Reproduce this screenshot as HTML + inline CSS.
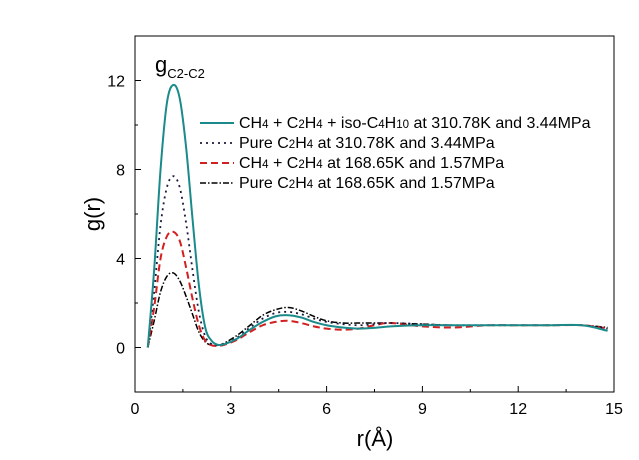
<!DOCTYPE html>
<html><head><meta charset="utf-8"><style>
body{margin:0;background:#fff;}
svg{display:block;font-family:"Liberation Sans",Arial,sans-serif;}
</style></head><body>
<svg id="c" width="639" height="460"></svg>
<script>
const xs=[0.4,0.6,0.8,1.0,1.2,1.4,1.6,1.8,2.0,2.2,2.4,2.6,2.8,3.2,3.6,4.0,4.4,4.8,5.2,5.6,6.0,6.5,7.0,7.5,8.0,9,10,11,12,13,14,14.8];
const sTeal=[0,3.5,8.0,11.0,11.8,11.2,9.0,5.8,2.8,0.9,0.3,0.12,0.15,0.4,0.8,1.15,1.4,1.45,1.35,1.15,1.0,0.9,0.85,0.88,0.95,1.0,1.0,1.0,1.0,1.0,1.0,0.75];
const sDot=[0,2.5,5.5,7.2,7.7,7.2,5.6,3.5,1.6,0.5,0.15,0.1,0.15,0.45,0.9,1.3,1.55,1.6,1.5,1.3,1.15,1.05,1.0,1.05,1.1,1.05,1.0,1.0,1.0,1.0,1.0,0.85];
const sRed=[0,1.8,4.0,5.0,5.2,4.8,3.6,2.2,1.0,0.3,0.1,0.08,0.12,0.35,0.7,1.0,1.15,1.2,1.1,0.95,0.85,0.8,0.85,1.0,1.1,0.95,0.9,1.0,1.0,1.0,1.0,0.85];
const sBlk=[0,1.2,2.5,3.2,3.35,3.0,2.3,1.5,0.7,0.25,0.1,0.1,0.2,0.55,1.0,1.45,1.7,1.8,1.65,1.4,1.2,1.1,1.1,1.1,1.1,1.05,1.0,1.0,1.0,1.0,1.0,0.9];
const xTicks=[0,3,6,9,12,15];
const yTicks=[0,4,8,12];
const NS="http://www.w3.org/2000/svg",svg=document.getElementById('c');
const L=135,R=614,T=36,B=392;
const X=v=>L+(v/15)*(R-L), Y=v=>B-((v+2)/16)*(B-T);
function el(t,a,p){const e=document.createElementNS(NS,t);for(const k in a)e.setAttribute(k,a[k]);(p||svg).appendChild(e);return e;}
const frame=el('rect',{x:L,y:T,width:R-L,height:B-T,fill:'none',stroke:'#000','stroke-width':1});


xTicks.forEach((t,i)=>{
  const ln=el('line',{x1:X(t),x2:X(t),y1:B,y2:B-6,stroke:'#000'});
  
  if(i<xTicks.length-1){const m=el('line',{x1:X(t+1.5),x2:X(t+1.5),y1:B,y2:B-3,stroke:'#000'});}
  const tx=el('text',{x:X(t),y:B+22,'text-anchor':'middle','font-size':16});tx.textContent=t;
  
});
yTicks.forEach(t=>{
  const ln=el('line',{x1:L,x2:L+6,y1:Y(t),y2:Y(t),stroke:'#000'});
  
  const m=el('line',{x1:L,x2:L+3,y1:Y(t+2),y2:Y(t+2),stroke:'#000'});
  
  const tx=el('text',{x:L-10,y:Y(t)+6,'text-anchor':'end','font-size':16});tx.textContent=t;
  
});
const xt=el('text',{x:375,y:446,'text-anchor':'middle','font-size':22});xt.textContent='r(Å)';

const yt=el('text',{x:0,y:0,'text-anchor':'middle','font-size':22,transform:'translate(100,214) rotate(-90)'});yt.textContent='g(r)';

const gt=el('text',{x:155,y:72,'font-size':22});gt.innerHTML='g<tspan font-size="13" dy="6">C2-C2</tspan>';

function path(arr){const p=arr.map((v,i)=>[X(xs[i]),Y(v)]);let d='M'+p[0][0]+','+p[0][1];
 for(let i=0;i<p.length-1;i++){const p0=p[i-1]||p[i],p1=p[i],p2=p[i+1],p3=p[i+2]||p2;
  d+=` C${p1[0]+(p2[0]-p0[0])/6},${p1[1]+(p2[1]-p0[1])/6} ${p2[0]-(p3[0]-p1[0])/6},${p2[1]-(p3[1]-p1[1])/6} ${p2[0]},${p2[1]}`;}return d;}
const sb='<tspan font-size="11.5">';
const series=[
 {d:sBlk,c:'#000',w:1.5,da:'6,2,1.5,2',n:'series-pure-c2h4-168k',lab:'Pure C'+sb+'2</tspan>H'+sb+'4</tspan> at 168.65K and 1.57MPa'},
 {d:sRed,c:'#d21f1f',w:2,da:'7,4',n:'series-ch4-c2h4-168k',lab:'CH'+sb+'4</tspan> + C'+sb+'2</tspan>H'+sb+'4</tspan> at 168.65K and 1.57MPa'},
 {d:sDot,c:'#1a1a40',w:1.8,da:'2,4',n:'series-pure-c2h4-310k',lab:'Pure C'+sb+'2</tspan>H'+sb+'4</tspan> at 310.78K and 3.44MPa'},
 {d:sTeal,c:'#1a8a8a',w:2,da:'',n:'series-mixture-310k',lab:'CH'+sb+'4</tspan> + C'+sb+'2</tspan>H'+sb+'4</tspan> + iso-C'+sb+'4</tspan>H'+sb+'10</tspan> at 310.78K and 3.44MPa'}];
series.forEach((s,i)=>{
  const p=el('path',{d:path(s.d),fill:'none',stroke:s.c,'stroke-width':s.w,'stroke-dasharray':s.da});
  
  const ly=123+(3-i)*20;
  const ll=el('line',{x1:200,x2:234,y1:ly,y2:ly,stroke:s.c,'stroke-width':s.w,'stroke-dasharray':s.da});
  
  const lt=el('text',{x:239,y:ly+5,'font-size':16});lt.innerHTML=s.lab;
  
});
</script>
</body></html>
